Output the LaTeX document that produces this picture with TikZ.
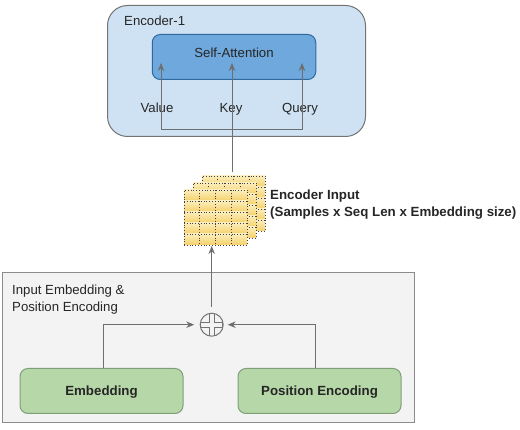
\documentclass[tikz,border=0pt]{standalone}
\usepackage{fontspec}
\setmainfont{Liberation Sans}
\usetikzlibrary{arrows.meta}
\definecolor{encfill}{HTML}{CFE2F3}
\definecolor{attnfill}{HTML}{6FA8DC}
\definecolor{attnline}{HTML}{2F6A9E}
\definecolor{inputfill}{HTML}{F3F3F3}
\definecolor{greenfill}{HTML}{B6D7A8}
\definecolor{greenline}{HTML}{7F9F78}
\definecolor{flowline}{HTML}{6E6E6E}
\definecolor{sheettop}{HTML}{FBEDBB}
\definecolor{sheetlow}{HTML}{F5D068}
\tikzset{
  txt/.style={font=\fontsize{13.2}{17}\selectfont, text=black!85, inner sep=0pt, align=left},
  txtb/.style={txt, font=\fontsize{13.3}{17}\selectfont\bfseries},
  box/.style={draw, inner sep=0pt, outer sep=0pt},
  flow/.style={draw=flowline, line width=1pt, -{Stealth[length=8pt,width=6.5pt]}},
  greenbox/.style={box, draw=greenline, fill=greenfill, line width=1pt, rounded corners=8pt, minimum width=163pt, minimum height=45pt},
  sheetdots/.style={black!75, line width=0.8pt, dash pattern=on 0.8pt off 2pt},
}
% one sheet of the stack: name, left edge, top edge
\newcommand{\datasheet}[3]{
  \foreach \r in {0,...,4}
    \shade[top color=sheettop, bottom color=sheetlow] ({#2},{#3+\r*11}) rectangle ++(63,11);
  \node[box, sheetdots, minimum width=63pt, minimum height=55pt] (#1) at ({#2+31.5},{#3+27.5}) {};
  \foreach \r in {1,...,4}
    \draw[sheetdots] ({#2},{#3+\r*11}) -- ++(63,0);
  \foreach \c in {1,2,3}
    \draw[sheetdots] ({#2+\c*15.75},{#3}) -- ++(0,55);
}
\begin{document}
\begin{tikzpicture}[x=1pt,y=-1pt]
\useasboundingbox (0,0) rectangle (520,430);

\node[box, draw=black!55, fill=encfill, line width=1pt, rounded corners=20pt, minimum width=258pt, minimum height=131pt] (encoder) at (236.5,71) {};
\node[box, draw=attnline, fill=attnfill, line width=1pt, rounded corners=8pt, minimum width=163.5pt, minimum height=45pt] (attn) at (234,57) {};
\node[txt, anchor=west] (enctitle) at (124,20.5) {Encoder-1};
\node[txt] (attntitle) at (234,52.5) {Self-Attention};
\node[txt, anchor=base] (value) at (157,113) {Value};
\node[txt, anchor=base] (key) at (231,113) {Key};
\node[txt, anchor=base] (query) at (300,113) {Query};

\coordinate (valuein) at (161,63);
\coordinate (keyin) at (232,63);
\coordinate (queryin) at (302,63);
\coordinate (branch) at (232,129.5);
\draw[flow] (branch) -| (valuein);
\draw[flow] (branch) -| (queryin);

\datasheet{sheetback}{202}{176}
\datasheet{sheetmid}{193}{183}
\datasheet{sheetfront}{184}{190}
\node[txtb, anchor=north west] (inputlabel) at (270,190) {Encoder Input\\(Samples x Seq Len x Embedding size)};

\draw[flow] (keyin |- sheetback.north) ++(0,-4) coordinate (keyfoot) -- (keyin);

\node[box, draw=black!45, fill=inputfill, line width=1pt, minimum width=412pt, minimum height=150pt] (inputbox) at (208,348) {};
\node[txt, anchor=north west] (inputtitle) at (12,285) {Input Embedding \&\\Position Encoding};

\node[greenbox] (embed) at (101.5,391) {};
\node[greenbox] (posenc) at (319.5,391) {};
\node[txtb] (embedtxt) at (101.5,392) {Embedding};
\node[txtb] (posenctxt) at (319.5,392) {Position Encoding};

\node[circle, draw=black!55, fill=inputfill, line width=1pt, minimum size=23pt, inner sep=0pt] (sum) at (211.7,324.7) {};
\draw[black!55, line width=0.8pt] ([shift={(-2.5,-11)}]sum.center) -- ++(0,8.5) -- ++(-8.5,0) -- ++(0,5) -- ++(8.5,0) -- ++(0,8.5)
  ++(5,0) -- ++(0,-8.5) -- ++(8.5,0) -- ++(0,-5) -- ++(-8.5,0) -- ++(0,-8.5);

\coordinate (embedtop) at (103,368);
\coordinate (postop) at (315,368);
\draw[flow, shorten >=5.5pt] (embedtop) |- (sum.west);
\draw[flow, shorten >=4pt] (postop) |- (sum.east);
\draw[flow, shorten <=6pt, shorten >=1pt] (sum.north) -- (sum |- sheetfront.south);
\end{tikzpicture}
\end{document}
